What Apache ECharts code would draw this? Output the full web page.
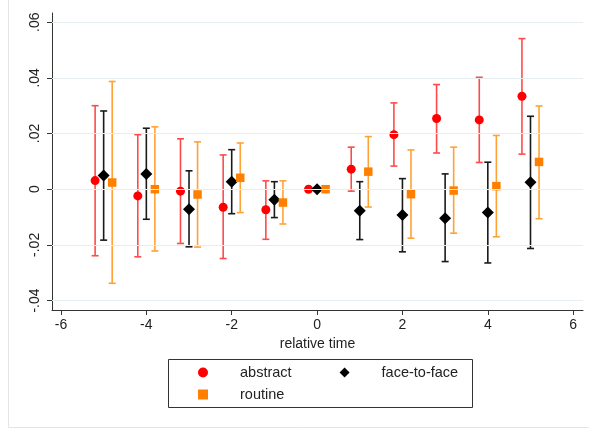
<!DOCTYPE html>
<html>
<head>
<meta charset="utf-8">
<script src="https://cdn.jsdelivr.net/npm/echarts@6/dist/echarts.min.js"></script>
<style>
  html, body { margin: 0; padding: 0; background: #fff; }
  #chart { width: 589px; height: 429px; }
</style>
</head>
<body>
<div id="chart"></div>
<script>
// relative time periods
const times = [-5, -4, -3, -2, -1, 0, 1, 2, 3, 4, 5];

// abstract
const abstractEst = [0.0031, -0.0024, -0.0007, -0.0065, -0.0074, 0, 0.0072, 0.0196, 0.0254, 0.0249, 0.0334];
const abstractLo  = [-0.0239, -0.0243, -0.0195, -0.0249, -0.0180, 0, -0.0007, 0.0083, 0.0130, 0.0096, 0.0126];
const abstractHi  = [0.0300, 0.0196, 0.0181, 0.0123, 0.0030, 0, 0.0151, 0.0310, 0.0376, 0.0402, 0.0541];

// face-to-face
const ftfEst = [0.0049, 0.0055, -0.0072, 0.0027, -0.0038, 0, -0.0077, -0.0093, -0.0104, -0.0084, 0.0025];
const ftfLo  = [-0.0183, -0.0108, -0.0207, -0.0088, -0.0102, 0, -0.0181, -0.0225, -0.0260, -0.0265, -0.0213];
const ftfHi  = [0.0281, 0.0219, 0.0066, 0.0142, 0.0027, 0, 0.0027, 0.0038, 0.0055, 0.0097, 0.0262];

// routine
const routineEst = [0.0024, 0.0000, -0.0019, 0.0041, -0.0048, 0, 0.0063, -0.0018, -0.0005, 0.0011, 0.0098];
const routineLo  = [-0.0338, -0.0222, -0.0208, -0.0084, -0.0125, 0, -0.0064, -0.0176, -0.0158, -0.0171, -0.0106];
const routineHi  = [0.0387, 0.0224, 0.0170, 0.0166, 0.0030, 0, 0.0189, 0.0141, 0.0151, 0.0193, 0.0299];

// axis ticks
const xTicks = [-6, -4, -2, 0, 2, 4, 6];
const yTicks = [-0.04, -0.02, 0, 0.02, 0.04, 0.06];

const FONT = '"Liberation Sans", Arial, sans-serif';

// small shift so the three estimates at each period sit side by side
function points(est, shift) {
  return times.map((t, i) => [t + shift, est[i]]);
}
function bars(lo, hi, shift) {
  return times.map((t, i) => [t + shift, lo[i], hi[i]]);
}

function errorBar(color) {
  return function (params, api) {
    const lo = api.value(1), hi = api.value(2);
    if (lo === hi) return null;
    const a = api.coord([api.value(0), lo]);
    const b = api.coord([api.value(0), hi]);
    const w = 3.5;
    const style = { stroke: color, lineWidth: 1.6 };
    return {
      type: 'group',
      children: [
        { type: 'line', shape: { x1: a[0], y1: a[1], x2: b[0], y2: b[1] }, style: style },
        { type: 'line', shape: { x1: a[0] - w, y1: a[1], x2: a[0] + w, y2: a[1] }, style: style },
        { type: 'line', shape: { x1: b[0] - w, y1: b[1], x2: b[0] + w, y2: b[1] }, style: style }
      ]
    };
  };
}

function yFmt(v) {
  if (Math.abs(v) < 1e-9) return '0';
  return (v < 0 ? '-' : '') + Math.abs(v).toFixed(2).replace(/^0/, '');
}

const legendText = {
  fontFamily: FONT, fontSize: 14.5, color: '#222',
  rich: { a: { padding: [0, 0, 0, 27], fontFamily: FONT, fontSize: 14.5, color: '#222' } }
};

const chart = echarts.init(document.getElementById('chart'));

const option = {
  animation: false,
  backgroundColor: '#fff',
  graphic: [
    {
      type: 'rect',
      shape: { x: 8.5, y: -2, width: 600, height: 429.5 },
      style: { fill: 'none', stroke: '#e4e4e4', lineWidth: 1 },
      silent: true, z: -1
    },
    {
      type: 'rect',
      shape: { x: 168.5, y: 359.5, width: 304, height: 48 },
      style: { fill: 'none', stroke: '#333', lineWidth: 1 },
      silent: true
    }
  ],
  grid: { left: 52, right: 6, top: 13, bottom: 119 },
  xAxis: {
    type: 'value',
    min: -6.21, max: 6.23,
    name: 'relative time',
    nameLocation: 'middle',
    nameGap: 26,
    nameTextStyle: { fontFamily: FONT, fontSize: 14, color: '#222' },
    axisLine: { show: true, onZero: false, lineStyle: { color: '#333', width: 1 } },
    axisTick: { show: true, length: 5, customValues: xTicks, lineStyle: { color: '#333' } },
    axisLabel: { customValues: xTicks, margin: 8, fontFamily: FONT, fontSize: 14, color: '#222' },
    splitLine: { show: false }
  },
  yAxis: {
    type: 'value',
    min: -0.0434, max: 0.0633,
    axisLine: { show: true, onZero: false, lineStyle: { color: '#333', width: 1 } },
    axisTick: { show: true, length: 5, customValues: yTicks, lineStyle: { color: '#333' } },
    axisLabel: {
      customValues: yTicks, rotate: 90, margin: 10,
      formatter: yFmt, fontFamily: FONT, fontSize: 14, color: '#222'
    },
    splitLine: { show: false }
  },
  legend: [
    {
      data: ['abstract', 'face-to-face'],
      left: 198, top: 365,
      orient: 'horizontal',
      itemWidth: 10, itemHeight: 10,
      itemGap: 48,
      padding: 0,
      formatter: name => '{a|' + name + '}',
      textStyle: legendText,
      selectedMode: false
    },
    {
      data: ['routine'],
      left: 198, top: 387,
      orient: 'horizontal',
      itemWidth: 10, itemHeight: 10,
      padding: 0,
      formatter: name => '{a|' + name + '}',
      textStyle: legendText,
      selectedMode: false
    }
  ],
  series: [
    {
      name: 'grid', type: 'scatter', data: [], silent: true, z: 0,
      markLine: {
        silent: true, symbol: 'none', label: { show: false },
        lineStyle: { color: '#e6eef1', width: 1.2, type: 'solid' },
        data: yTicks.map(v => ({ yAxis: v }))
      }
    },
    { name: 'abstract-ci', type: 'custom', renderItem: errorBar('#ff4a4a'), data: bars(abstractLo, abstractHi, -0.2), z: 2, silent: true },
    { name: 'ftf-ci', type: 'custom', renderItem: errorBar('#1a1a1a'), data: bars(ftfLo, ftfHi, 0), z: 2, silent: true },
    { name: 'routine-ci', type: 'custom', renderItem: errorBar('#ffa235'), data: bars(routineLo, routineHi, 0.2), z: 2, silent: true },
    { name: 'abstract', type: 'scatter', symbol: 'circle', symbolSize: 9, itemStyle: { color: '#ff0000', opacity: 1 }, data: points(abstractEst, -0.2), z: 3 },
    { name: 'face-to-face', type: 'scatter', symbol: 'diamond', symbolSize: 12, itemStyle: { color: '#000000', opacity: 1 }, data: points(ftfEst, 0), z: 3 },
    { name: 'routine', type: 'scatter', symbol: 'rect', symbolSize: 8.5, itemStyle: { color: '#ff8000', opacity: 1 }, data: points(routineEst, 0.2), z: 3 }
  ]
};

chart.setOption(option);
</script>
</body>
</html>
